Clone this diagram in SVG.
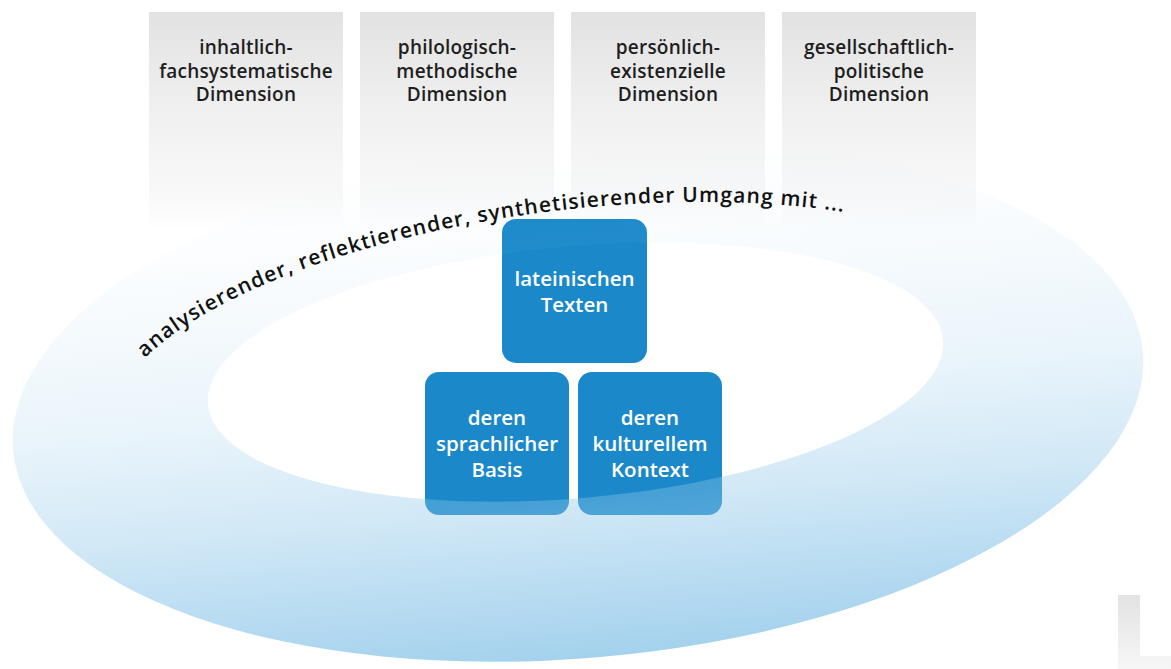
<svg xmlns="http://www.w3.org/2000/svg" width="1171" height="669" viewBox="0 0 1171 669">
  <defs>
    <linearGradient id="colGrad" x1="0" y1="0" x2="0" y2="1">
      <stop offset="0" stop-color="#e2e2e2"/>
      <stop offset="0.45" stop-color="#f0f0f0"/>
      <stop offset="0.85" stop-color="#f9f9f9"/>
      <stop offset="1" stop-color="#ffffff"/>
    </linearGradient>
    <linearGradient id="lGrad" x1="0" y1="0" x2="0" y2="1">
      <stop offset="0" stop-color="#e3e3e3"/>
      <stop offset="1" stop-color="#f6f6f6"/>
    </linearGradient>
    <linearGradient id="ringGrad" gradientUnits="userSpaceOnUse" x1="0" y1="144" x2="0" y2="658">
      <stop offset="0" stop-color="#8dc6e9" stop-opacity="0"/>
      <stop offset="0.15" stop-color="#8dc6e9" stop-opacity="0.03"/>
      <stop offset="0.35" stop-color="#8dc6e9" stop-opacity="0.12"/>
      <stop offset="0.5" stop-color="#8dc6e9" stop-opacity="0.2"/>
      <stop offset="0.7" stop-color="#8dc6e9" stop-opacity="0.4"/>
      <stop offset="1" stop-color="#8dc6e9" stop-opacity="0.8"/>
    </linearGradient>
    <path id="arcPath" d="M 145 358 C 255 250 600 168 870 216"/>
  </defs>
  <style>
    .col { fill: url(#colGrad); }
    .coltext { font-family: "Open Sans", "Liberation Sans", sans-serif; font-weight: 600; font-size: 19px; fill: #1e1e1e; text-anchor: middle; letter-spacing: 0.2px; }
    .box { fill: #1b89c9; }
    .boxtext { font-family: "Open Sans", "Liberation Sans", sans-serif; font-weight: 600; font-size: 20.5px; fill: #ffffff; text-anchor: middle; }
    .arctext { font-family: "Open Sans", "Liberation Sans", sans-serif; font-weight: 600; font-size: 21px; fill: #111111; letter-spacing: 1.1px; }
  </style>

  <g id="dimensions">
    <g id="dim1">
      <rect class="col" x="149" y="12" width="194" height="218"/>
      <text class="coltext"><tspan x="246" y="54">inhaltlich-</tspan><tspan x="246" y="78">fachsystematische</tspan><tspan x="246" y="101">Dimension</tspan></text>
    </g>
    <g id="dim2">
      <rect class="col" x="360" y="12" width="194" height="218"/>
      <text class="coltext"><tspan x="457" y="54">philologisch-</tspan><tspan x="457" y="78">methodische</tspan><tspan x="457" y="101">Dimension</tspan></text>
    </g>
    <g id="dim3">
      <rect class="col" x="571" y="12" width="194" height="218"/>
      <text class="coltext"><tspan x="668" y="54">persönlich-</tspan><tspan x="668" y="78">existenzielle</tspan><tspan x="668" y="101">Dimension</tspan></text>
    </g>
    <g id="dim4">
      <rect class="col" x="782" y="12" width="194" height="218"/>
      <text class="coltext"><tspan x="879" y="54">gesellschaftlich-</tspan><tspan x="879" y="78">politische</tspan><tspan x="879" y="101">Dimension</tspan></text>
    </g>
  </g>

  <g id="corner-shape">
    <path d="M1118 595 H1140 V656 H1171 V669 H1118 Z" fill="url(#lGrad)"/>
  </g>

  <g id="boxes">
    <g id="box-texte">
      <rect class="box" x="502" y="219" width="145" height="144" rx="14"/>
      <text class="boxtext"><tspan x="574.5" y="286">lateinischen</tspan><tspan x="574.5" y="312">Texten</tspan></text>
    </g>
    <g id="box-basis">
      <rect class="box" x="425" y="372" width="144" height="143" rx="14"/>
      <text class="boxtext"><tspan x="497" y="425">deren</tspan><tspan x="497" y="451">sprachlicher</tspan><tspan x="497" y="477">Basis</tspan></text>
    </g>
    <g id="box-kontext">
      <rect class="box" x="578" y="372" width="144" height="143" rx="14"/>
      <text class="boxtext"><tspan x="650" y="425">deren</tspan><tspan x="650" y="451">kulturellem</tspan><tspan x="650" y="477">Kontext</tspan></text>
    </g>
  </g>

  <g id="ring" transform="rotate(-5 578 401)">
    <path fill="url(#ringGrad)" fill-rule="evenodd" d="M 11 401 A 567 257 0 1 0 1145 401 A 567 257 0 1 0 11 401 Z M 209 372 A 369 126 0 1 0 947 372 A 369 126 0 1 0 209 372 Z"/>
  </g>

  <g id="arc-label">
    <text class="arctext"><textPath href="#arcPath">analysierender, reflektierender, synthetisierender Umgang mit ...</textPath></text>
  </g>
</svg>
